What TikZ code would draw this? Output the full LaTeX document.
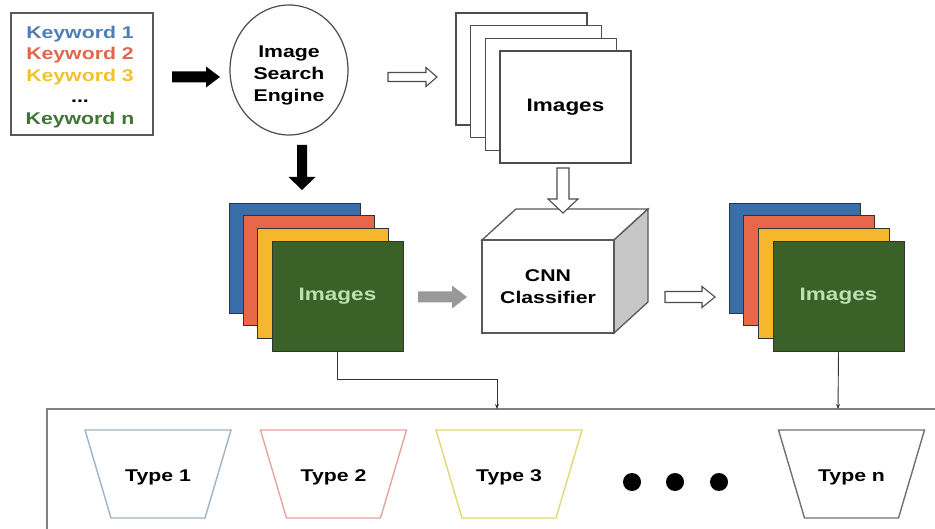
\documentclass[tikz,border=0pt]{standalone}
\usepackage{fontspec}
\setmainfont{Liberation Sans}[FakeStretch=1.25]
\usetikzlibrary{arrows.meta,shapes.geometric}
\definecolor{kwa}{HTML}{4F7DB5}
\definecolor{kwb}{HTML}{E0674C}
\definecolor{kwc}{HTML}{F2C12E}
\definecolor{kwn}{HTML}{3F7535}
\definecolor{stblue}{HTML}{3A6EA8}
\definecolor{stred}{HTML}{E8664A}
\definecolor{styel}{HTML}{F6B62E}
\definecolor{stgreen}{HTML}{3A6128}
\definecolor{imgtxt}{HTML}{BFE0B0}
\definecolor{tpa}{HTML}{9FB3C8}
\definecolor{tpb}{HTML}{E5A59C}
\definecolor{tpc}{HTML}{E3D872}
\definecolor{tpn}{HTML}{707070}
\tikzset{
  pics/barrow/.style n args={4}{code={
    \path[pic actions] (0,-#3/2) -- (#1-#2,-#3/2) -- (#1-#2,-#4/2) -- (#1,0)
      -- (#1-#2,#4/2) -- (#1-#2,#3/2) -- (0,#3/2) -- cycle;}},
  pics/trap/.style={code={
    \path[pic actions] (-73,0) -- (73,0) -- (47,88) -- (-47,88) -- cycle;}},
  solidarrow/.style={fill=black},
  hollowarrow/.style={fill=white,draw=black!70,line width=1.1pt},
  grayarrow/.style={fill=black!40},
  whitesheet/.style={draw=black!70,fill=white,line width=1.3pt},
  sheet/.style={draw=black!80,line width=0.9pt},
  conn/.style={draw=black!80,line width=0.9pt,-{Stealth[length=5pt,width=4pt]}},
  trapline/.style={line width=1.4pt},
  txt/.style={font=\fontsize{17}{22}\selectfont\bfseries},
}
\begin{document}
\begin{tikzpicture}[x=1pt,y=-1pt]
\useasboundingbox[fill=white] (0,0) rectangle (935,529);

% keyword box
\node[draw=black!65,line width=1.3pt,minimum width=142pt,minimum height=122pt] (kw) at (82,74) {};
\node[align=center,font=\fontsize{17}{21.5}\selectfont\bfseries] (kwt) at (80,77)
  {\textcolor{kwa}{Keyword 1}\\\textcolor{kwb}{Keyword 2}\\\textcolor{kwc}{Keyword 3}\\...\\\textcolor{kwn}{Keyword n}};

% search engine
\node[draw=black!70,line width=1.2pt,ellipse,minimum width=118pt,minimum height=130pt] (ise) at (289,70) {};
\node[txt,align=center] (iset) at (289,75) {Image\\Search\\Engine};

% top white stack
\foreach \i in {0,1,2}{
  \draw[whitesheet] (456+14.7*\i,13+12.7*\i) rectangle ++(131,112);
}
\node[whitesheet,minimum width=131pt,minimum height=112pt,txt,font=\fontsize{18}{22}\selectfont\bfseries] (imgtop) at (565.5,107) {Images};

% left coloured stack
\foreach \c [count=\i from 0] in {stblue,stred,styel}{
  \draw[sheet,fill=\c] (229+14.3*\i,203+12.7*\i) rectangle ++(131,110);
}
\node[sheet,fill=stgreen,minimum width=131pt,minimum height=110pt,text=imgtxt,font=\fontsize{18}{22}\selectfont\bfseries] (imgl) at (337.5,296) {Images};

% right coloured stack
\foreach \c [count=\i from 0] in {stblue,stred,styel}{
  \draw[sheet,fill=\c] (729+14.7*\i,203+12.7*\i) rectangle ++(131,110);
}
\node[sheet,fill=stgreen,minimum width=131pt,minimum height=110pt,text=imgtxt,font=\fontsize{18}{22}\selectfont\bfseries] (imgr) at (838.5,296) {Images};

% CNN cube
\draw[draw=black!65,line width=1.3pt,fill=white] (482,240) -- (516,209) -- (648,209) -- (614,240) -- cycle;
\draw[draw=black!65,line width=1.3pt,fill=black!22] (614,240) -- (648,209) -- (648,302) -- (614,333) -- cycle;
\node[draw=black!65,line width=1.3pt,fill=white,minimum width=132pt,minimum height=93pt,txt,align=center] (cnn) at (548,286.5) {CNN\\Classifier};

% block arrows
\pic[solidarrow] at (172,77) {barrow={48}{14}{11}{21}};
\pic[hollowarrow] at (388,77) {barrow={49}{11}{9}{19}};
\pic[solidarrow,rotate=-90] at (302,145) {barrow={45}{13}{10}{27}};
\pic[hollowarrow,rotate=-90] at (563,168) {barrow={45}{14}{12}{30}};
\pic[grayarrow] at (418,297) {barrow={49}{15}{11}{23}};
\pic[hollowarrow] at (665,297) {barrow={50}{13}{11}{21}};

% bottom container
\draw[draw=black!50,line width=1.6pt] (940,409) -- (47,409) -- (47,540);
\coordinate (inl) at (497,409);
\coordinate (inr) at (838,409);

% connectors
\draw[conn] (imgl.south) -- ++(0,28) -| (inl);
\draw[conn] (imgr.south) -- (inr);

% types
\pic[draw=tpa,trapline] at (158,430) {trap};
\pic[draw=tpb,trapline] at (333.5,430) {trap};
\pic[draw=tpc,trapline] at (509,430) {trap};
\pic[draw=tpn,trapline] at (851.5,430) {trap};
\node[txt] (ta) at (158,477) {Type 1};
\node[txt] (tb) at (333.5,477) {Type 2};
\node[txt] (tc) at (509,477) {Type 3};
\node[txt] (tn) at (851.5,477) {Type n};

% dots
\fill (632,482) circle[radius=9pt];
\fill (675,482) circle[radius=9pt];
\fill (719,482) circle[radius=9pt];
\end{tikzpicture}
\end{document}
